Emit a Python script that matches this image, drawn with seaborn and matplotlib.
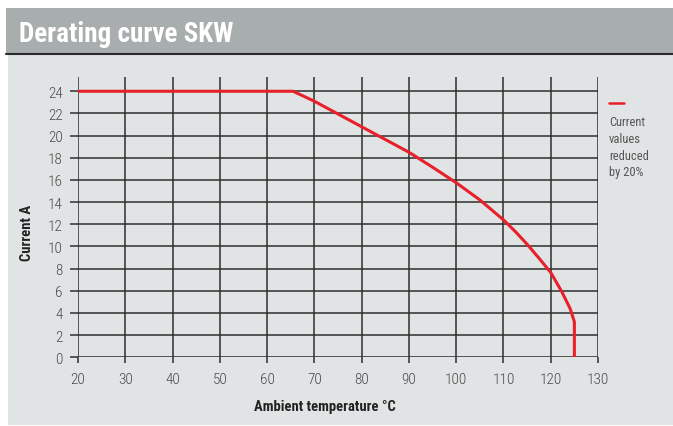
import matplotlib
matplotlib.use("Agg")
import matplotlib.pyplot as plt
import seaborn as sns
import pandas as pd
from matplotlib.patches import Rectangle
from matplotlib.lines import Line2D

# ---- data ----
temperature_c = [20, 65.5, 70, 75, 80, 85, 90, 95, 100, 105, 110, 112.5, 115, 117.5, 120, 122.3, 124.1, 125, 125]
current_a = [24, 24, 23.1, 21.95, 20.8, 19.65, 18.5, 17.15, 15.75, 14.2, 12.4, 11.35, 10.2, 8.95, 7.65, 5.95, 4.4, 3.2, 0]
x_ticks = [20, 30, 40, 50, 60, 70, 80, 90, 100, 110, 120, 130]
y_ticks = [0, 2, 4, 6, 8, 10, 12, 14, 16, 18, 20, 22, 24]
title = "Derating curve SKW"
x_label = "Ambient temperature °C"
y_label = "Current A"
legend_text = "Current\nvalues\nreduced\nby 20%"

df = pd.DataFrame({"temp": temperature_c, "current": current_a})

sns.set_theme(style="white")
narrow = ["Liberation Sans Narrow", "Roboto Condensed", "Liberation Sans", "DejaVu Sans"]
plt.rcParams["font.family"] = narrow

W, H = 673, 427
fig = plt.figure(figsize=(W / 100, H / 100), dpi=100)
fig.patch.set_facecolor("white")

def fx(px):
    return px / W

def fy(py):
    return 1 - py / H

# light panel
fig.patches.append(Rectangle((fx(8), fy(426)), 1 - fx(8), fy(56) - fy(426),
                             transform=fig.transFigure, facecolor="#e1e4e5", edgecolor="none", zorder=-10))
# title band
fig.patches.append(Rectangle((fx(6), fy(54.5)), 1 - fx(6), fy(9) - fy(54.5),
                             transform=fig.transFigure, facecolor="#a8aeae", edgecolor="none", zorder=-10))
# dark line under band
fig.lines.append(Line2D([fx(6), 1], [fy(55), fy(55)], transform=fig.transFigure,
                        color="#2a2a2a", linewidth=1.5, zorder=-9))

fig.text(fx(19), fy(34), title, color="white", fontsize=19.5, fontweight="bold",
         ha="left", va="center", family=narrow)

ax = fig.add_axes([fx(78), fy(358.3), fx(598) - fx(78), fy(78.3) - fy(358.3)])
ax.set_facecolor("none")
ax.set_zorder(5)

sns.lineplot(data=df, x="temp", y="current", ax=ax, color="#e8202a", linewidth=2.2,
             sort=False, estimator=None, zorder=5)

ax.set_xlim(20, 130)
ax.set_ylim(0, 25.26)
ax.set_xticks(x_ticks)
ax.set_yticks(y_ticks)
ax.set_xticklabels([str(v) for v in x_ticks])
ax.set_yticklabels([str(v) for v in y_ticks])
ax.grid(True, color="#2e2e2e", linewidth=1.1)
ax.set_axisbelow(True)
for s in ax.spines.values():
    s.set_visible(False)
ax.tick_params(axis="y", which="major", direction="out", length=6, width=1.1,
               color="#2e2e2e", pad=5, labelsize=11, labelcolor="#4a4a4a", left=True)
ax.tick_params(axis="x", which="major", direction="out", length=4.5, width=1.1,
               color="#2e2e2e", pad=6, labelsize=11, labelcolor="#4a4a4a", bottom=True)
for lab in ax.get_xticklabels() + ax.get_yticklabels():
    lab.set_fontweight("light")
ax.set_xlabel("")
ax.set_ylabel("")

fig.text(fx(325), fy(407), x_label, fontsize=10.5, fontweight="bold", color="#222222",
         ha="center", va="center", family=narrow)
fig.text(fx(27), fy(233), y_label, fontsize=10.5, fontweight="bold", color="#222222",
         ha="center", va="center", rotation=90, family=narrow)

# legend
fig.lines.append(Line2D([fx(609), fx(624)], [fy(104), fy(104)], transform=fig.transFigure,
                        color="#e8202a", linewidth=1.8))
fig.text(fx(609), fy(116), legend_text, fontsize=9, color="#555555", ha="left", va="top",
         linespacing=1.38, family=narrow)

fig.savefig("out.png", dpi=100)
